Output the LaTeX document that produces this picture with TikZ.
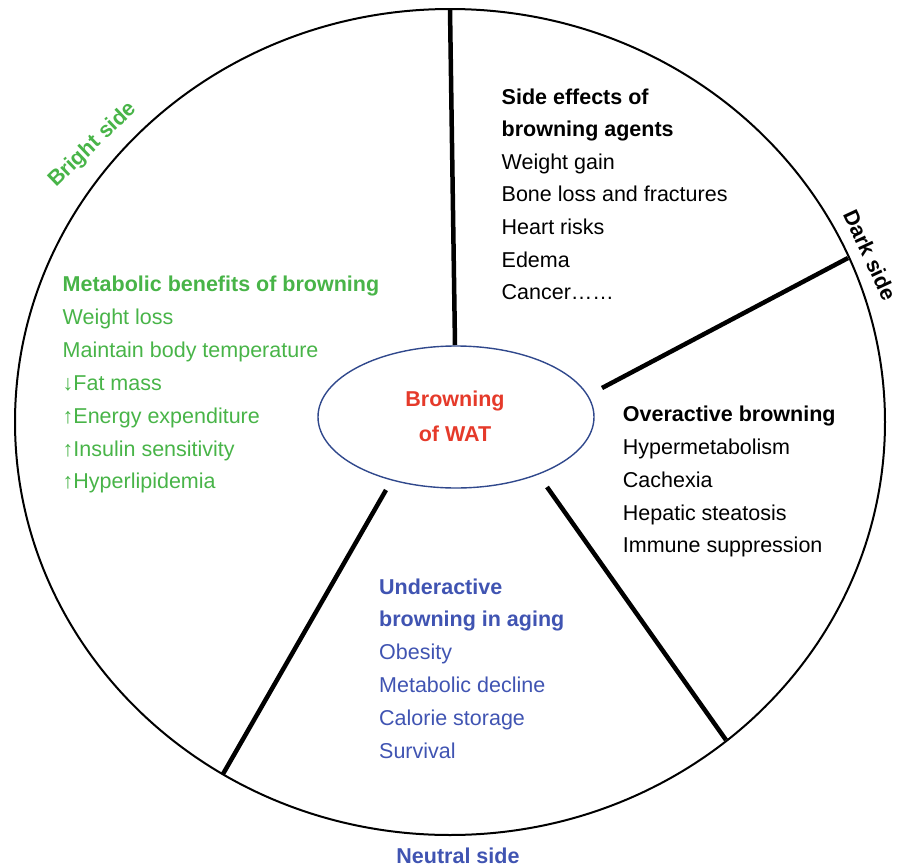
\documentclass[tikz,border=0pt]{standalone}
\usepackage{fontspec}
\setmainfont{Liberation Sans}
\usetikzlibrary{shapes.geometric}
\definecolor{brightgreen}{RGB}{72,180,72}
\definecolor{neutralblue}{RGB}{64,84,178}
\definecolor{watred}{RGB}{229,58,42}
\definecolor{rimblue}{RGB}{48,72,140}
\begin{document}
\begin{tikzpicture}[x=1pt,y=-1pt,
  every node/.style={inner sep=0pt, font=\fontsize{21.5}{26}\selectfont},
  txt/.style={anchor=base west},
  hd/.style={anchor=base west, font=\fontsize{21.5}{26}\selectfont\bfseries},
  sidelabel/.style={font=\fontsize{21.5}{26}\selectfont\bfseries},
  spoke/.style={line width=4.5pt},
  rim/.style={line width=2pt}]
\useasboundingbox (0,0) rectangle (898,865);

% outer wheel
\draw[rim] (450,422) ellipse [x radius=435pt, y radius=413pt];

% central ellipse
\node[ellipse, draw=rimblue, line width=1.4pt, minimum width=276pt, minimum height=142pt] (core) at (456,417) {};
\node[anchor=base, text=watred, font=\fontsize{21.5}{26}\selectfont\bfseries] (t1) at (455,406) {Browning};
\node[anchor=base, text=watred, font=\fontsize{21.5}{26}\selectfont\bfseries] (t2) at (455,441.7) {of WAT};

% spokes dividing the wheel
\coordinate (o1) at (450,9);    \coordinate (i1) at (455,345);
\coordinate (o2) at (848,258);  \coordinate (i2) at (602,388);
\coordinate (o3) at (726,740);  \coordinate (i3) at (547,487);
\coordinate (o4) at (223,774);  \coordinate (i4) at (386,490);
\draw[spoke] (o1) -- (i1);
\draw[spoke] (o2) -- (i2);
\draw[spoke] (o3) -- (i3);
\draw[spoke] (o4) -- (i4);

% sector labels
\node[sidelabel, text=brightgreen, rotate=44] (bright) at (93,145) {Bright side};
\node[sidelabel, rotate=-65] (dark) at (870,255) {Dark side};
\node[sidelabel, text=neutralblue, anchor=base] (neutral) at (458,863) {Neutral side};

% bright side
\begin{scope}[every node/.append style={text=brightgreen}]
\node[hd]  (g0) at (62.5,291.5) {Metabolic benefits of browning};
\node[txt] (g1) at (62.5,324.4) {Weight loss};
\node[txt] (g2) at (62.5,357.3) {Maintain body temperature};
\node[txt] (g3) at (62.5,390.2) {↓Fat mass};
\node[txt] (g4) at (62.5,423.1) {↑Energy expenditure};
\node[txt] (g5) at (62.5,456.0) {↑Insulin sensitivity};
\node[txt] (g6) at (62.5,488.9) {↑Hyperlipidemia};
\end{scope}

% dark side: agents
\node[hd]  (k0) at (501.5,104.0) {Side effects of};
\node[hd]  (k1) at (501.5,136.6) {browning agents};
\node[txt] (k2) at (501.5,169.2) {Weight gain};
\node[txt] (k3) at (501.5,201.8) {Bone loss and fractures};
\node[txt] (k4) at (501.5,234.4) {Heart risks};
\node[txt] (k5) at (501.5,267.0) {Edema};
\node[txt] (k6) at (501.5,299.6) {Cancer……};

% dark side: overactive
\node[hd]  (v0) at (622.7,421.7) {Overactive browning};
\node[txt] (v1) at (622.7,454.5) {Hypermetabolism};
\node[txt] (v2) at (622.7,487.3) {Cachexia};
\node[txt] (v3) at (622.7,520.1) {Hepatic steatosis};
\node[txt] (v4) at (622.7,552.9) {Immune suppression};

% neutral side
\begin{scope}[every node/.append style={text=neutralblue}]
\node[hd]  (n0) at (379,594.0) {Underactive};
\node[hd]  (n1) at (379,626.8) {browning in aging};
\node[txt] (n2) at (379,659.6) {Obesity};
\node[txt] (n3) at (379,692.4) {Metabolic decline};
\node[txt] (n4) at (379,725.2) {Calorie storage};
\node[txt] (n5) at (379,758.0) {Survival};
\end{scope}
\end{tikzpicture}
\end{document}
